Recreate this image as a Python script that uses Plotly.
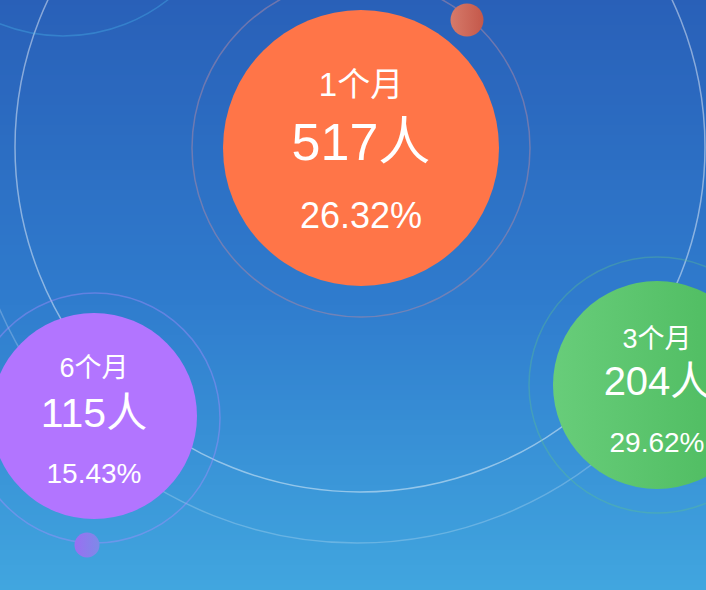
import plotly.graph_objects as go

# ---------------- data ----------------
categories = ["1个月", "3个月", "6个月"]
counts = [517, 204, 115]
percents = [26.32, 29.62, 15.43]

# ---------------- layout / style ----------------
W, H = 706, 590
FONT = "Liberation Sans, Noto Sans CJK SC, sans-serif"

# bubble geometry (centre x, centre y, radius) per category
bubble_cx = [361, 657, 94]
bubble_cy = [148, 385, 416]
bubble_r = [138, 104, 103]
bubble_color = ["rgb(255,117,72)", "rgb(104,205,122)", "rgb(178,117,255)"]
bubble_grad = ["rgb(255,117,72)", "rgb(74,185,92)", "rgb(178,117,255)"]

# text offsets from the bubble centre and font sizes
label_dy = [-60, -44, -46]
num_dy = [-1, 0, 1]
pct_dy = [71, 60, 60]
label_size = [33, 27, 27]
num_size = [52, 40, 41]
pct_size = [36, 28, 28]

# halo rings around bubbles (cx, cy, r, color)
halos = [
    (361, 148, 169, "rgba(165,135,165,0.55)"),
    (657, 385, 128, "rgba(95,195,140,0.35)"),
    (95, 418, 125, "rgba(175,140,255,0.40)"),
    (63, -134, 170, "rgba(80,200,245,0.30)"),
]
# orbits
orbits = [
    (360, 147, 345, "rgba(255,255,255,0.45)"),
    (357, 153, 390, "rgba(255,255,255,0.22)"),
]

fig = go.Figure()

# background gradient bands
stops = [(0, (41, 96, 184)), (295, (47, 123, 205)), (590, (65, 166, 223))]


def bg_color(y):
    for (y0, c0), (y1, c1) in zip(stops[:-1], stops[1:]):
        if y0 <= y <= y1:
            t = (y - y0) / (y1 - y0)
            return "rgb(%d,%d,%d)" % tuple(round(a + (b - a) * t) for a, b in zip(c0, c1))
    return "rgb(%d,%d,%d)" % stops[-1][1]


shapes = []
band = 5
for y in range(0, H, band):
    shapes.append(dict(type="rect", xref="x", yref="y", x0=0, x1=W, y0=y, y1=y + band + 1,
                       fillcolor=bg_color(y + band / 2), line=dict(width=0), layer="below"))

for cx, cy, r, col in orbits + halos:
    shapes.append(dict(type="circle", xref="x", yref="y", x0=cx - r, x1=cx + r, y0=cy - r, y1=cy + r,
                       line=dict(color=col, width=1.5), fillcolor="rgba(0,0,0,0)", layer="below"))

# decorative cyan bubble (top-left, partly outside the view)
fig.add_trace(go.Scatter(x=[63], y=[-134], mode="markers",
                         marker=dict(size=286, color="rgb(52,182,234)", line=dict(width=0)),
                         hoverinfo="skip", showlegend=False, cliponaxis=True))

# main bubbles
for i, cat in enumerate(categories):
    fig.add_trace(go.Scatter(
        x=[bubble_cx[i]], y=[bubble_cy[i]], mode="markers",
        marker=dict(size=2 * bubble_r[i], color=bubble_color[i], line=dict(width=0),
                    gradient=dict(type="horizontal", color=bubble_grad[i])),
        hoverinfo="skip", showlegend=False))

# small satellite dots
fig.add_trace(go.Scatter(x=[467], y=[20], mode="markers",
                         marker=dict(size=33, color="rgb(214,122,106)", line=dict(width=0),
                                     gradient=dict(type="horizontal", color="rgb(196,88,74)")),
                         hoverinfo="skip", showlegend=False))
fig.add_trace(go.Scatter(x=[87], y=[545], mode="markers",
                         marker=dict(size=25, color="rgb(155,110,242)", line=dict(width=0),
                                     gradient=dict(type="horizontal", color="rgb(125,138,232)")),
                         hoverinfo="skip", showlegend=False))

# texts
for i, cat in enumerate(categories):
    cx, cy = bubble_cx[i], bubble_cy[i]
    fig.add_trace(go.Scatter(
        x=[cx, cx, cx],
        y=[cy + label_dy[i], cy + num_dy[i], cy + pct_dy[i]],
        mode="text",
        text=[cat, f"{counts[i]}人", f"{percents[i]:.2f}%"],
        textposition="middle center",
        textfont=dict(family=FONT, color="white",
                      size=[label_size[i], num_size[i], pct_size[i]]),
        hoverinfo="skip", showlegend=False, cliponaxis=False))

fig.update_layout(
    width=W, height=H,
    margin=dict(l=0, r=0, t=0, b=0),
    paper_bgcolor="rgb(47,123,205)",
    plot_bgcolor="rgb(47,123,205)",
    shapes=shapes,
    xaxis=dict(range=[0, W], visible=False, showgrid=False, zeroline=False, fixedrange=True),
    yaxis=dict(range=[H, 0], visible=False, showgrid=False, zeroline=False, fixedrange=True),
    showlegend=False,
)

fig.write_html("out.html", config={"displayModeBar": False},
               post_script="document.body.style.margin='0';document.body.style.overflow='hidden';")
